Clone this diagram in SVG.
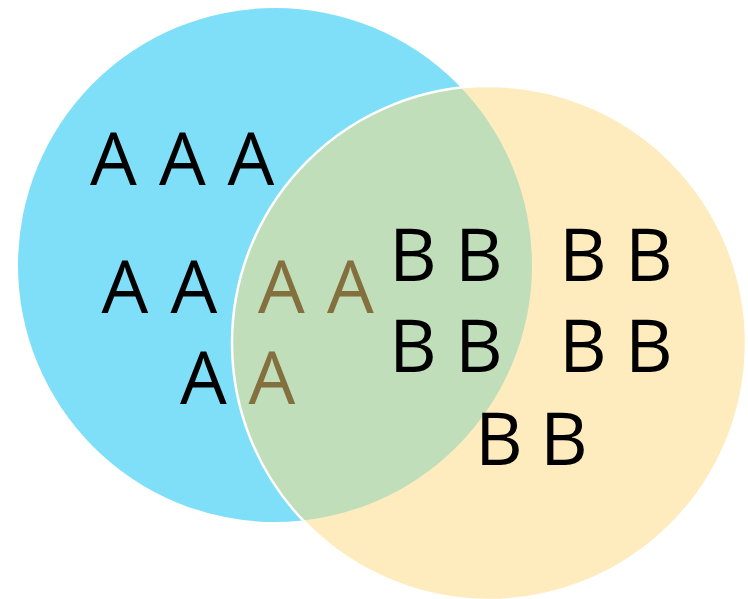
<svg xmlns="http://www.w3.org/2000/svg" width="748" height="599" viewBox="0 0 748 599">
  <defs>
    <clipPath id="clipA">
      <circle cx="275" cy="265" r="257"/>
    </clipPath>
    <style>
      .lbl { font-family: "Open Sans", "Liberation Sans", Arial, sans-serif; font-size: 74px; text-anchor: middle; fill: #000; }
      .mid { fill: #846f3f; }
    </style>
  </defs>
  <rect width="748" height="599" fill="#ffffff"/>
  <g id="set-a">
    <circle cx="275" cy="265" r="257" fill="#80dff8"/>
  </g>
  <g id="set-b">
    <circle cx="489" cy="343" r="257" fill="#feebbe"/>
  </g>
  <g id="overlap">
    <circle cx="489" cy="343" r="257" fill="#c0deb9" clip-path="url(#clipA)"/>
    <circle cx="489" cy="343" r="257" fill="none" stroke="#ffffff" stroke-width="2.5"/>
  </g>
  <g id="labels-a">
    <text class="lbl" x="113.5" y="185">A</text>
    <text class="lbl" x="182.5" y="185">A</text>
    <text class="lbl" x="251" y="185">A</text>
    <text class="lbl" x="125" y="313">A</text>
    <text class="lbl" x="194" y="313">A</text>
    <text class="lbl" x="203.5" y="404">A</text>
  </g>
  <g id="labels-ab">
    <text class="lbl mid" x="281.5" y="313">A</text>
    <text class="lbl mid" x="350.5" y="313">A</text>
    <text class="lbl mid" x="272" y="404">A</text>
  </g>
  <g id="labels-b">
    <text class="lbl" x="413" y="281">B</text>
    <text class="lbl" x="479" y="281">B</text>
    <text class="lbl" x="583" y="281">B</text>
    <text class="lbl" x="649" y="281">B</text>
    <text class="lbl" x="413" y="372">B</text>
    <text class="lbl" x="479" y="372">B</text>
    <text class="lbl" x="583" y="372">B</text>
    <text class="lbl" x="649" y="372">B</text>
    <text class="lbl" x="499" y="465">B</text>
    <text class="lbl" x="564" y="465">B</text>
  </g>
</svg>
